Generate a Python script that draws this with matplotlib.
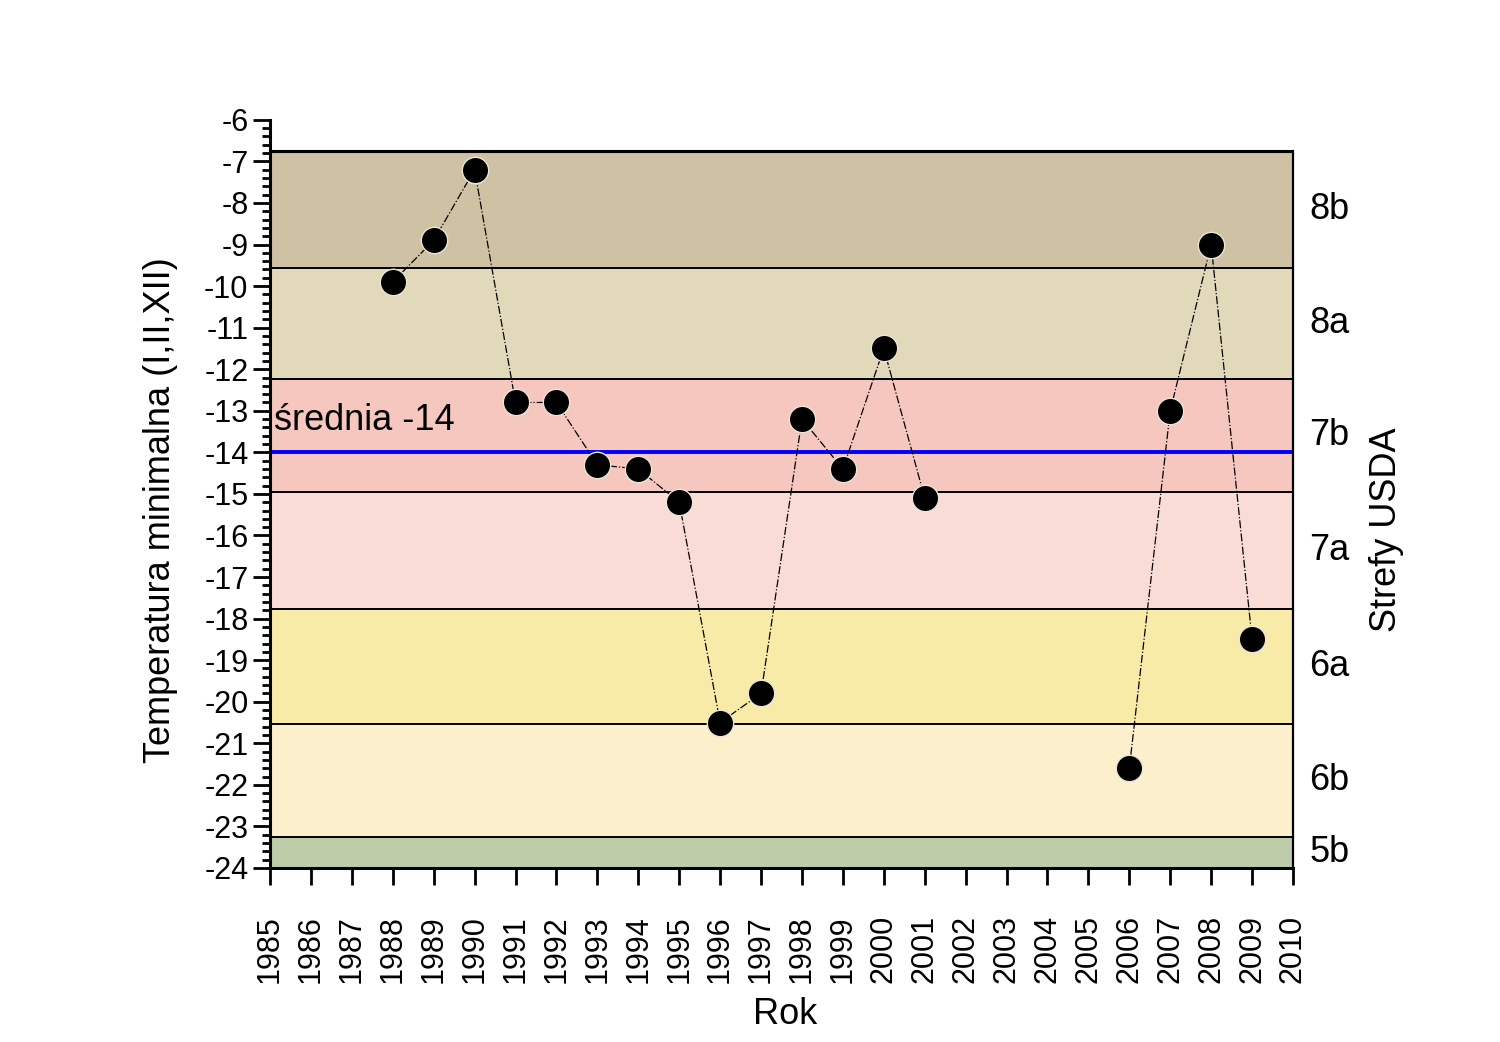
import matplotlib
matplotlib.use("Agg")
import matplotlib.pyplot as plt
import numpy as np

plt.rcParams['font.family'] = ['Liberation Sans', 'DejaVu Sans']
plt.rcParams['axes.unicode_minus'] = False

# data (gap 2002-2005)
years = [1988, 1989, 1990, 1991, 1992, 1993, 1994, 1995, 1996, 1997,
         1998, 1999, 2000, 2001, 2002, 2006, 2007, 2008, 2009]
tmin = [-9.9, -8.9, -7.2, -12.8, -12.8, -14.3, -14.4, -15.2, -20.5, -19.8,
        -13.2, -14.4, -11.5, -15.1, np.nan, -21.6, -13.0, -9.0, -18.5]

# USDA zone bands (edges in deg C), label, colour
zone_edges = [-6.75, -9.56, -12.23, -14.95, -17.77, -20.54, -23.26, -24.0]
zone_labels = ["8b", "8a", "7b", "7a", "6a", "6b", "5b"]
zone_colors = ["#CFC1A4", "#E2D8BA", "#F6C7BF", "#FADCD7", "#F8EBA8", "#FBF0CB", "#BFCCAA"]
mean_val = -14

def main():
    fig = plt.figure(figsize=(15, 10.42), dpi=100)
    ax = fig.add_axes([0.18, 0.167, 0.682, 0.718])

    for i in range(len(zone_labels)):
        top, bot = zone_edges[i], zone_edges[i + 1]
        ax.axhspan(bot, top, color=zone_colors[i], lw=0, zorder=0)
        ax.axhline(top, color="black", lw=2.2 if i == 0 else 1.4, zorder=1)
        ax.text(2010.4, (top + bot) / 2, zone_labels[i], fontsize=26,
                va="center", ha="left", clip_on=False)

    ax.axhline(mean_val, color="#0000FF", lw=2.8, zorder=2)
    ax.text(1985.1, mean_val + 0.35, "średnia -14", fontsize=26,
            va="bottom", ha="left", zorder=3)

    ax.plot(years, tmin, color="black", lw=0.9, ls="-.", zorder=3)
    ax.plot(years, tmin, ls="none", marker="o", ms=19, mfc="black",
            mec="#EDE6D6", mew=1.0, zorder=4)

    ax.set_xlim(1985, 2010)
    ax.set_ylim(-24, -6)
    ax.set_xticks(range(1985, 2011))
    ax.set_xticklabels([str(y) for y in range(1985, 2011)], rotation=90, fontsize=22)
    ax.set_yticks(range(-24, -5))
    ax.set_yticks(np.arange(-24, -5.9, 0.2), minor=True)
    ax.tick_params(axis="y", which="major", length=12, width=2, labelsize=22, direction="out")
    ax.tick_params(axis="y", which="minor", length=6, width=2, direction="out")
    ax.tick_params(axis="x", which="major", length=12, width=2, pad=22, direction="out")

    ax.spines["top"].set_visible(False)
    ax.spines["left"].set_linewidth(2.2)
    ax.spines["bottom"].set_linewidth(2.2)
    ax.spines["right"].set_linewidth(1.6)
    ax.spines["right"].set_bounds(-24, -6.75)

    fig.text(785 / 1500, 1 - 1015 / 1042, "Rok", fontsize=26, va="center", ha="center")
    fig.text(161 / 1500, 1 - 510 / 1042, "Temperatura minimalna (I,II,XII)", rotation=90,
             fontsize=26, va="center", ha="center")
    fig.text(1387 / 1500, 1 - 530 / 1042, "Strefy USDA", rotation=90, fontsize=26,
             va="center", ha="center")

    fig.savefig("out.png", dpi=100)

if __name__ == "__main__":
    main()
